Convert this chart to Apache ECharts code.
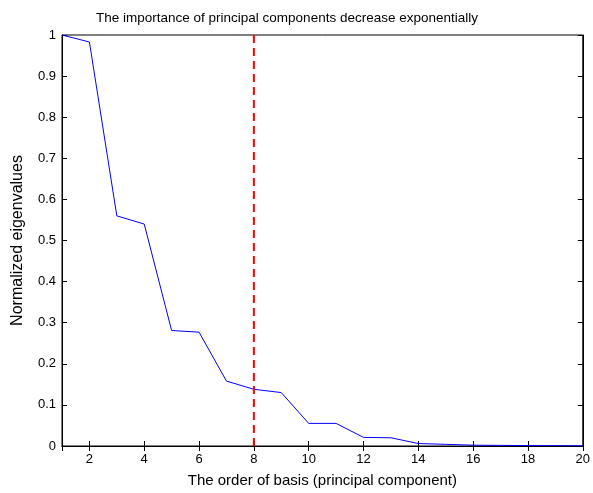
<!DOCTYPE html>
<html>
<head>
<meta charset="utf-8">
<title>principal components</title>
<script src="https://cdn.jsdelivr.net/npm/echarts@6/dist/echarts.min.js"></script>
<style>
html,body{margin:0;padding:0;background:#fff;}
#main{width:593px;height:493px;}
</style>
</head>
<body>
<div id="main"></div>
<script>
// data
var order = [1,2,3,4,5,6,7,8,9,10,11,12,13,14,15,16,17,18,19,20];
var eigen = [1.0,0.983,0.560,0.540,0.281,0.277,0.158,0.138,0.130,0.055,0.055,0.021,0.020,0.006,0.004,0.002,0.0015,0.001,0.0008,0.0005];
var cutX = 8;
var cutY = [0, 1];

var font = '"Liberation Sans", Arial, sans-serif';
var myChart = echarts.init(document.getElementById('main'));

var pts = [];
for (var i = 0; i < order.length; i++) pts.push([order[i], eigen[i]]);

var tickIn = { show: true, inside: true, length: 5, lineStyle: { color: '#000' } };

option = {
	animation: false,
	backgroundColor: '#fff',
	title: {
		text: 'The importance of principal components decrease exponentially',
		left: 282, top: 6, textAlign: 'center',
		textStyle: { fontFamily: font, fontSize: 13.5, fontWeight: 'normal', color: '#000' }
	},
	grid: { left: 62, right: 9, top: 35, bottom: 47, show: true, borderColor: '#000', borderWidth: 1 },
	xAxis: [{
		type: 'value', min: 1, max: 20, splitNumber: 10,
		name: 'The order of basis (principal component)', nameLocation: 'middle', nameGap: 27,
		nameTextStyle: { fontFamily: font, fontSize: 15, color: '#000' },
		axisLine: { show: true, lineStyle: { color: '#000' } },
		axisTick: tickIn,
		splitLine: { show: false },
		axisLabel: { fontFamily: font, fontSize: 13, color: '#000', margin: 7, showMinLabel: false,
			formatter: function (v) { return v === 1 ? '' : v; } }
	}, {
		type: 'value', position: 'top', min: 1, max: 20, splitNumber: 10,
		axisLine: { show: true, lineStyle: { color: '#000' } },
		axisTick: tickIn, axisLabel: { show: false }, splitLine: { show: false }
	}],
	yAxis: [{
		type: 'value', min: 0, max: 1, interval: 0.1,
		name: 'Normalized eigenvalues', nameLocation: 'middle', nameGap: 36,
		nameTextStyle: { fontFamily: font, fontSize: 16, color: '#000' },
		axisLine: { show: true, lineStyle: { color: '#000' } },
		axisTick: tickIn,
		splitLine: { show: false },
		axisLabel: { fontFamily: font, fontSize: 13, color: '#000', margin: 6 }
	}, {
		type: 'value', position: 'right', min: 0, max: 1, interval: 0.1,
		axisLine: { show: true, lineStyle: { color: '#000' } },
		axisTick: tickIn, axisLabel: { show: false }, splitLine: { show: false }
	}],
	series: [{
		type: 'line', data: pts, showSymbol: false,
		lineStyle: { color: '#0000ff', width: 1 }
	}, {
		type: 'line', data: [[cutX, cutY[0]], [cutX, cutY[1]]], showSymbol: false,
		lineStyle: { color: '#ff0000', width: 2, type: [8, 5] }
	}]
};
myChart.setOption(option);
</script>
</body>
</html>
